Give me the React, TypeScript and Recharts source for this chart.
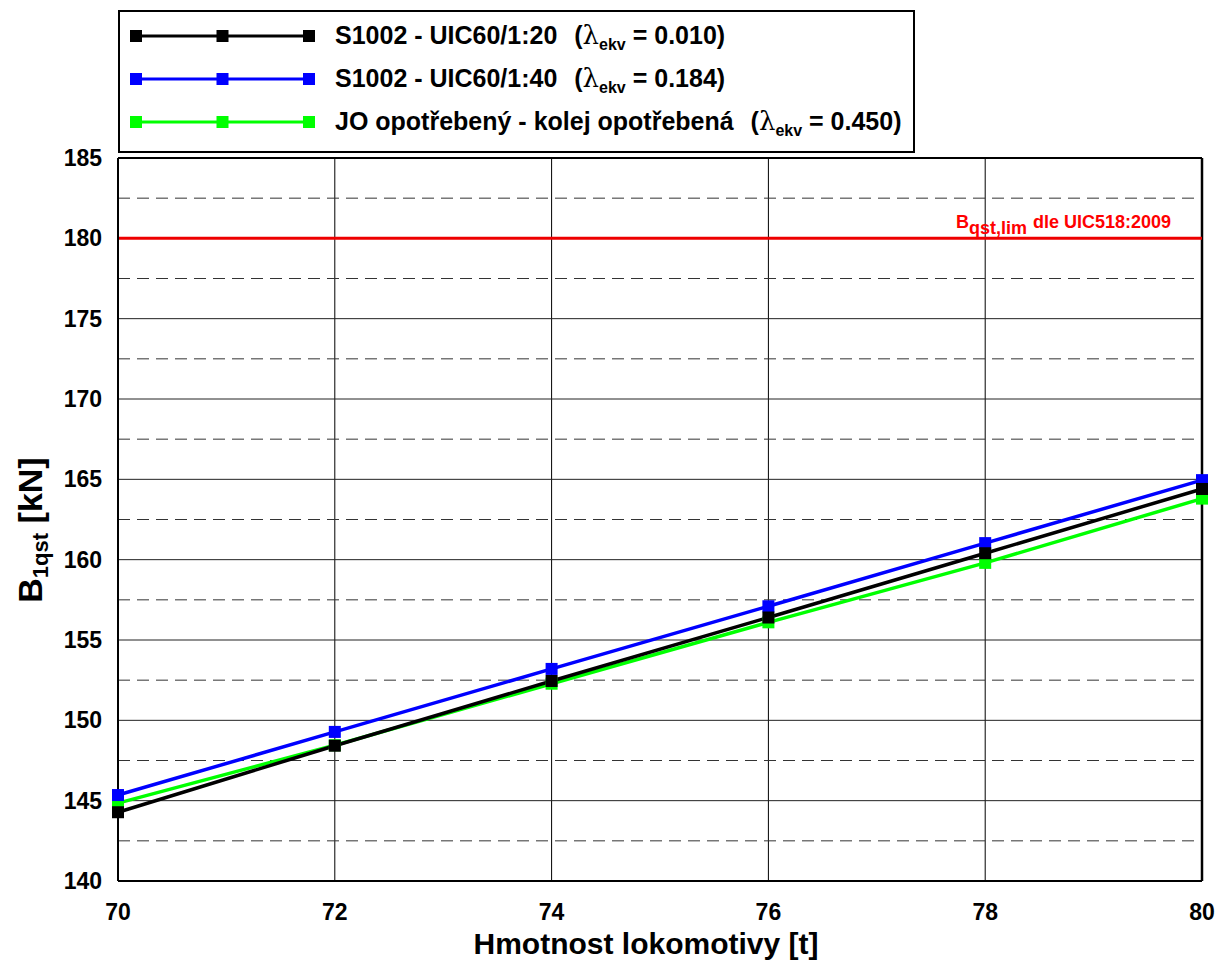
import React from 'react';
import { LineChart, Line, XAxis, YAxis, CartesianGrid, ReferenceLine } from 'recharts';

const masses = [70, 72, 74, 76, 78, 80];
const s1002_uic60_20 = [144.28, 148.42, 152.45, 156.4, 160.4, 164.4];
const s1002_uic60_40 = [145.35, 149.28, 153.2, 157.1, 161.03, 164.95];
const joWornTrackWorn = [144.85, 148.45, 152.28, 156.1, 159.8, 163.8];

const xTicks = [70, 72, 74, 76, 78, 80];
const yTicks = [140, 145, 150, 155, 160, 165, 170, 175, 180, 185];
const yMinorTicks = [142.5, 147.5, 152.5, 157.5, 162.5, 167.5, 172.5, 177.5, 182.5];
const limitValue = 180;

const seriesNames = ['S1002 - UIC60/1:20', 'S1002 - UIC60/1:40', 'JO opotřebený - kolej opotřebená'];
const lambdaValues = ['0.010', '0.184', '0.450'];
const seriesColors = ['#000000', '#0000ff', '#00ff00'];

const data = masses.map((m, i) => ({
  m,
  a: s1002_uic60_20[i],
  b: s1002_uic60_40[i],
  c: joWornTrackWorn[i],
}));

const FONT = '"Liberation Sans", Arial, Helvetica, sans-serif';

const squareDot = (color: string) => (props: any) => {
  const { cx, cy, index } = props;
  if (cx == null || cy == null) return <g key={`e-${index}`} />;
  return <rect key={`d-${color}-${index}`} x={cx - 6} y={cy - 6} width={12} height={12} fill={color} />;
};

const Legend = () => {
  const rows = [0, 1, 2];
  return (
    <svg width={797} height={143} style={{ position: 'absolute', left: 118, top: 10 }}>
      <rect x={1} y={1} width={795} height={141} fill="#fff" stroke="#000" strokeWidth={2} />
      {rows.map((i) => {
        const cy = 26 + i * 43;
        const col = seriesColors[i];
        return (
          <g key={i}>
            <line x1={18} x2={191} y1={cy} y2={cy} stroke={col} strokeWidth={3} />
            {[18, 104.5, 191].map((x) => (
              <rect key={x} x={x - 6} y={cy - 6} width={12} height={12} fill={col} />
            ))}
            <text x={217} y={cy + 8} fontFamily={FONT} fontWeight="bold" fontSize={25} fill="#000" style={{ whiteSpace: 'pre' }}>
              {seriesNames[i]}
              <tspan dx={3}>{'  ('}</tspan>
              <tspan fontFamily='"DejaVu Serif", "Liberation Serif", serif' fontWeight="normal" fontSize={26}>λ</tspan>
              <tspan fontSize={16} dy={6}>ekv</tspan>
              <tspan dy={-6}>{' = ' + lambdaValues[i] + ')'}</tspan>
            </text>
          </g>
        );
      })}
    </svg>
  );
};

export default function App() {
  return (
    <div style={{ position: 'absolute', left: 0, top: 0, width: 1219, height: 960, background: '#fff' }}>
      <LineChart
        width={1219}
        height={960}
        data={data}
        margin={{ top: 158, right: 17, bottom: 0, left: 0 }}
      >
        <CartesianGrid horizontal={false} vertical stroke="#000" strokeWidth={1} />
        {yTicks.slice(1, -1).map((v) => (
          <ReferenceLine key={`maj-${v}`} y={v} stroke="#222" strokeWidth={1} />
        ))}
        {yMinorTicks.map((v) => (
          <ReferenceLine key={`min-${v}`} y={v} stroke="#333" strokeWidth={1} strokeDasharray="12 7" />
        ))}
        <ReferenceLine y={185} stroke="#000" strokeWidth={2} />
        <ReferenceLine x={80} stroke="#000" strokeWidth={2.5} />
        <ReferenceLine
          y={limitValue}
          stroke="#ee0000"
          strokeWidth={3}
          label={(props: any) => {
            const vb = props.viewBox || {};
            const x = (vb.x || 0) + (vb.width || 0) - 31;
            const y = (vb.y || 0) - 10;
            return (
              <text x={x} y={y} textAnchor="end" fontFamily={FONT} fontWeight="bold" fontSize={18} fill="#ff0000">
                B
                <tspan dy={6}>qst,lim</tspan>
                <tspan dy={-6} dx={6}>dle UIC518:2009</tspan>
              </text>
            );
          }}
        />
        <XAxis
          dataKey="m"
          type="number"
          domain={[70, 80]}
          ticks={xTicks}
          height={79}
          axisLine={{ stroke: '#000', strokeWidth: 2 }}
          tickLine={false}
          tickSize={0}
          tickMargin={23}
          tick={{ fill: '#000', fontFamily: FONT, fontWeight: 'bold', fontSize: 23 }}
          label={() => (
            <text x={646} y={954} textAnchor="middle" fontFamily={FONT} fontWeight="bold" fontSize={30} fill="#000">
              Hmotnost lokomotivy [t]
            </text>
          )}
        />
        <YAxis
          type="number"
          domain={[140, 185]}
          ticks={yTicks}
          width={118}
          axisLine={{ stroke: '#000', strokeWidth: 2 }}
          tickLine={false}
          tickSize={0}
          tickMargin={16}
          tick={{ fill: '#000', fontFamily: FONT, fontWeight: 'bold', fontSize: 23 }}
          label={() => (
            <text x={42} y={530} transform="rotate(-90, 42, 530)" textAnchor="middle" fontFamily={FONT} fontWeight="bold" fontSize={34} fill="#000">
              B
              <tspan fontSize={22} dy={6}>1qst</tspan>
              <tspan dy={-6}> [kN]</tspan>
            </text>
          )}
        />
        <Line type="linear" dataKey="c" stroke={seriesColors[2]} strokeWidth={3.5} dot={squareDot(seriesColors[2])} isAnimationActive={false} />
        <Line type="linear" dataKey="b" stroke={seriesColors[1]} strokeWidth={3.5} dot={squareDot(seriesColors[1])} isAnimationActive={false} />
        <Line type="linear" dataKey="a" stroke={seriesColors[0]} strokeWidth={3.5} dot={squareDot(seriesColors[0])} isAnimationActive={false} />
      </LineChart>
      <Legend />
    </div>
  );
}
